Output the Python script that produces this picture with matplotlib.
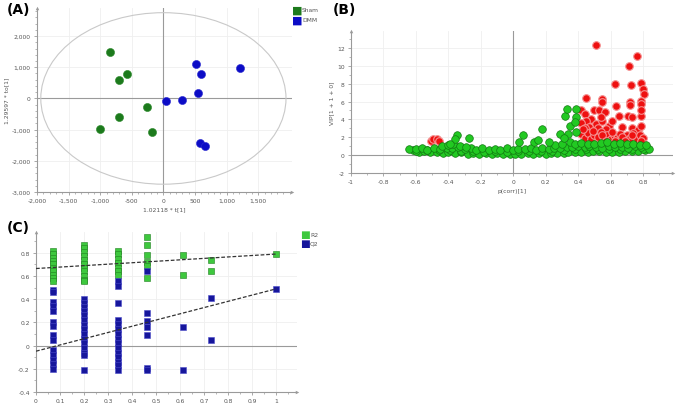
#Script to redraw the three-panel OPLS-DA figure (score plot, VIP plot, permutation test)
import matplotlib
matplotlib.use("Agg")
import matplotlib.pyplot as plt
from matplotlib.patches import Ellipse
from matplotlib.ticker import MultipleLocator, AutoMinorLocator, FuncFormatter

# ---- Panel A: score plot ----
sham_t = [-850, -710, -570, -260, -710, -1000, -180]
sham_to = [1500, 580, 770, -260, -580, -990, -1090]
dmm_t = [40, 290, 520, 600, 550, 1210, 580, 660]
dmm_to = [-70, -50, 1110, 780, 160, 970, -1440, -1530]
ellipse_t = 1940     # Hotelling T2 half-width
ellipse_to = 2750    # Hotelling T2 half-height

# ---- Panel B: VIP vs p(corr) ----
green_pts = [
	# lower row of the band
	(-0.62, 0.55), (-0.58, 0.35), (-0.55, 0.45), (-0.51, 0.30), (-0.47, 0.40), (-0.43, 0.28),
	(-0.40, 0.35), (-0.36, 0.22), (-0.32, 0.30), (-0.28, 0.18), (-0.25, 0.25), (-0.21, 0.15),
	(-0.17, 0.22), (-0.13, 0.12), (-0.10, 0.20), (-0.06, 0.15), (-0.02, 0.10), (0.01, 0.18),
	(0.05, 0.12), (0.09, 0.20), (0.12, 0.15), (0.16, 0.22), (0.20, 0.18), (0.23, 0.25),
	(0.27, 0.20), (0.31, 0.28), (0.34, 0.30), (0.38, 0.35), (0.42, 0.40), (0.46, 0.38),
	(0.49, 0.45), (0.53, 0.42), (0.57, 0.35), (0.61, 0.40), (0.65, 0.38), (0.69, 0.45),
	(0.73, 0.42), (0.77, 0.50), (0.81, 0.55),
	# middle row
	(-0.60, 0.50), (-0.53, 0.55), (-0.46, 0.60), (-0.39, 0.55), (-0.32, 0.50), (-0.25, 0.45),
	(-0.18, 0.40), (-0.11, 0.45), (-0.04, 0.40), (0.03, 0.45), (0.10, 0.50), (0.17, 0.45),
	(0.24, 0.50), (0.31, 0.60), (0.38, 0.65), (0.45, 0.70), (0.52, 0.70), (0.59, 0.65),
	(0.66, 0.70), (0.73, 0.65), (0.80, 0.70),
	# upper row
	(-0.64, 0.70), (-0.60, 0.65), (-0.56, 0.75), (-0.53, 0.60), (-0.49, 0.80), (-0.45, 0.70),
	(-0.41, 0.85), (-0.38, 0.75), (-0.34, 0.90), (-0.30, 0.65), (-0.26, 0.80), (-0.23, 0.60),
	(-0.19, 0.75), (-0.15, 0.55), (-0.11, 0.70), (-0.08, 0.60), (-0.04, 0.75), (0.00, 0.55),
	(0.03, 0.70), (0.07, 0.65), (0.11, 0.80), (0.14, 0.60), (0.18, 0.75), (0.22, 0.70),
	(0.25, 0.85), (0.29, 0.80), (0.33, 0.90), (0.36, 0.95), (0.40, 1.00), (0.44, 0.90),
	(0.47, 1.05), (0.51, 0.95), (0.55, 0.85), (0.59, 1.00), (0.63, 0.90), (0.67, 0.95),
	(0.71, 0.85), (0.75, 1.00), (0.79, 0.90), (0.84, 0.70),
	# top of the band
	(-0.44, 1.00), (-0.40, 1.10), (-0.37, 1.20), (-0.33, 1.05), (-0.29, 0.95), (0.26, 1.10),
	(0.30, 1.30), (0.35, 1.50), (0.38, 1.20), (0.42, 1.40), (0.46, 1.30), (0.50, 1.20),
	(0.54, 1.35), (0.58, 1.50), (0.62, 1.25), (0.66, 1.40), (0.70, 1.20), (0.74, 1.30),
	(0.78, 1.15), (0.82, 1.10),
	# scattered higher ones
	(-0.345, 2.25), (-0.36, 1.80), (-0.27, 1.90), (-0.39, 1.30), (0.06, 2.25), (0.035, 1.45),
	(0.18, 2.95), (0.13, 1.45), (0.15, 1.65), (0.22, 1.45), (0.29, 2.40), (0.32, 4.40),
	(0.33, 5.15), (0.39, 5.15), (0.39, 4.30), (0.35, 3.30), (0.34, 2.40), (0.39, 2.55),
	(0.31, 1.90), (0.38, 3.70),
]
red_pts = [
	(-0.505, 1.60), (-0.495, 1.80), (-0.47, 1.85), (-0.46, 1.60),
	(0.51, 12.3), (0.76, 11.05), (0.715, 10.0), (0.63, 7.95), (0.725, 7.8), (0.79, 8.1),
	(0.80, 7.4), (0.805, 6.9), (0.45, 6.35), (0.55, 6.3), (0.55, 5.95), (0.635, 5.55),
	(0.72, 6.0), (0.72, 5.65), (0.785, 6.05), (0.785, 5.75), (0.65, 4.4), (0.71, 4.35),
	(0.73, 4.3), (0.785, 4.35), (0.79, 5.1),
	(0.42, 5.1), (0.445, 4.6), (0.50, 5.0), (0.53, 5.0), (0.565, 4.8), (0.48, 4.1),
	(0.51, 3.5), (0.45, 3.8), (0.42, 3.6), (0.59, 3.3), (0.52, 3.0), (0.55, 3.8),
	(0.47, 3.2), (0.54, 4.3), (0.44, 3.0), (0.61, 3.8), (0.57, 2.9), (0.67, 3.2),
	(0.73, 3.0), (0.77, 2.8), (0.79, 3.3),
	(0.42, 2.4), (0.44, 1.9), (0.46, 2.5), (0.48, 1.8), (0.50, 2.3), (0.52, 2.0),
	(0.54, 2.6), (0.56, 1.9), (0.58, 2.3), (0.60, 1.8), (0.62, 2.2), (0.64, 1.9),
	(0.66, 2.4), (0.68, 1.8), (0.70, 2.2), (0.72, 1.9), (0.74, 2.5), (0.76, 1.8),
	(0.78, 2.2), (0.80, 1.9), (0.43, 2.9), (0.49, 2.7), (0.55, 2.2), (0.61, 2.6),
	(0.67, 2.0), (0.73, 2.3), (0.79, 1.6), (0.57, 1.6), (0.63, 1.6), (0.69, 1.6),
]

# ---- Panel C: permutation test ----
perm_r2 = {
	0.07: [0.82, 0.79, 0.76, 0.73, 0.70, 0.67, 0.64, 0.61, 0.58, 0.56],
	0.20: [0.87, 0.84, 0.81, 0.77, 0.74, 0.70, 0.67, 0.64, 0.60, 0.57, 0.56],
	0.34: [0.82, 0.79, 0.75, 0.71, 0.67, 0.64, 0.61],
	0.46: [0.94, 0.87, 0.78, 0.72, 0.69, 0.58],
	0.61: [0.78, 0.61],
	0.73: [0.74, 0.64],
	1.00: [0.79],
}
perm_q2 = {
	0.07: [0.48, 0.46, 0.38, 0.34, 0.30, 0.20, 0.17, 0.09, 0.05, -0.04, -0.08, -0.12, -0.16, -0.20],
	0.20: [0.40, 0.37, 0.33, 0.30, 0.26, 0.22, 0.18, 0.14, 0.10, 0.06, 0.02, -0.02, -0.06, -0.08, -0.21],
	0.34: [0.56, 0.51, 0.37, 0.22, 0.19, 0.14, 0.10, 0.06, 0.02, -0.02, -0.06, -0.10, -0.14, -0.17, -0.21],
	0.46: [0.64, 0.28, 0.21, 0.16, 0.09, -0.19, -0.21],
	0.61: [0.16, -0.21],
	0.73: [0.41, 0.05],
	1.00: [0.49],
}
r2_intercept = 0.665
q2_intercept = -0.048

W, H = 677, 406
AXIS_GREY = "#9a9a9a"
TEXT_GREY = "#555555"
GRID = "#efefef"


def px_axes(fig, left, top, right, bottom):
	'''Add axes from pixel edges (top-left origin).'''
	return fig.add_axes([left / W, (H - bottom) / H, (right - left) / W, (bottom - top) / H])


def style_axes(ax):
	'''Grey arrow axes like the SIMCA output.'''
	for s in ["top", "right"]:
		ax.spines[s].set_visible(False)
	for s in ["left", "bottom"]:
		ax.spines[s].set_color(AXIS_GREY)
		ax.spines[s].set_linewidth(0.8)
	ax.tick_params(which="both", direction="out", colors=AXIS_GREY, labelcolor=TEXT_GREY,
		labelsize=4.3, pad=2)
	ax.tick_params(which="major", length=2.5, width=0.6)
	ax.tick_params(which="minor", length=1.3, width=0.5)
	ax.grid(True, which="major", color=GRID, linewidth=0.6, zorder=0)
	ax.set_axisbelow(True)
	ax.plot(0, 1, "^", transform=ax.transAxes, clip_on=False, color=AXIS_GREY, ms=2.5, mew=0)
	ax.plot(1, 0, ">", transform=ax.transAxes, clip_on=False, color=AXIS_GREY, ms=2.5, mew=0)


fig = plt.figure(figsize=(W / 100, H / 100), dpi=100)
fig.patch.set_facecolor("white")

# Panel A
axA = px_axes(fig, 37, 9, 292, 193)
style_axes(axA)
axA.set_xlim(-2000, 2035)
axA.set_ylim(-3000, 2900)
axA.xaxis.set_major_locator(MultipleLocator(500))
axA.yaxis.set_major_locator(MultipleLocator(1000))
axA.xaxis.set_minor_locator(AutoMinorLocator(5))
axA.yaxis.set_minor_locator(AutoMinorLocator(5))
axA.set_xticks([-2000, -1500, -1000, -500, 0, 500, 1000, 1500])
axA.xaxis.set_major_formatter(FuncFormatter(lambda v, p: f"{v:,.0f}"))
axA.yaxis.set_major_formatter(FuncFormatter(lambda v, p: f"{v:,.0f}"))
axA.axhline(0, color=AXIS_GREY, lw=0.8, zorder=1)
axA.axvline(0, color=AXIS_GREY, lw=0.8, zorder=1)
axA.add_patch(Ellipse((0, 0), 2 * ellipse_t, 2 * ellipse_to, fill=False, ec="#c9c9c9", lw=0.8, zorder=1))
axA.scatter(sham_t, sham_to, s=34, color="#1c7a1c", edgecolors="#2a8a2a", linewidths=0.4, zorder=3, label="Sham")
axA.scatter(dmm_t, dmm_to, s=34, color="#0c0cc6", edgecolors="#2a2ad0", linewidths=0.4, zorder=3, label="DMM")
axA.set_xlabel("1.02118 * t[1]", fontsize=4.3, color=TEXT_GREY, labelpad=2)
axA.set_ylabel("1.29597 * to[1]", fontsize=4.3, color=TEXT_GREY, labelpad=2)
axA.legend(loc="upper left", bbox_to_anchor=(0.995, 1.0), frameon=False, fontsize=4.3,
	markerscale=0.0, handlelength=0, handletextpad=0, borderaxespad=0)
legA = axA.get_legend()
legA.remove()
for i, (lab, col) in enumerate([("Sham", "#1c7a1c"), ("DMM", "#0c0cc6")]):
	fig.text(297 / W, 1 - (11 + 10 * i) / H, "\u25A0", color=col, fontsize=8, ha="center", va="center")
	fig.text(302 / W, 1 - (11 + 10 * i) / H, lab, color=TEXT_GREY, fontsize=4.3, ha="left", va="center")

# Panel B
axB = px_axes(fig, 351, 32, 673, 174)
style_axes(axB)
axB.set_xlim(-1, 0.985)
axB.set_ylim(-2, 13.9)
axB.xaxis.set_major_locator(MultipleLocator(0.2))
axB.yaxis.set_major_locator(MultipleLocator(2))
axB.xaxis.set_minor_locator(AutoMinorLocator(2))
axB.yaxis.set_minor_locator(AutoMinorLocator(2))
axB.xaxis.set_major_formatter(FuncFormatter(lambda v, p: f"{round(v, 1):g}"))
axB.yaxis.set_major_formatter(FuncFormatter(lambda v, p: f"{v:g}"))
axB.axhline(0, color=AXIS_GREY, lw=0.8, zorder=1)
axB.axvline(0, color=AXIS_GREY, lw=0.8, zorder=1)
rx = [p[0] for p in red_pts]
ry = [p[1] for p in red_pts]
gx = [p[0] for p in green_pts]
gy = [p[1] for p in green_pts]
axB.scatter(rx, ry, s=30, color="#ee1010", edgecolors="#f59090", linewidths=0.8, zorder=3)
axB.scatter(gx, gy, s=30, color="#22c922", edgecolors="#127812", linewidths=0.5, zorder=4)
axB.set_xlabel("p(corr)[1]", fontsize=4.3, color=TEXT_GREY, labelpad=3)
axB.set_ylabel("VIP[1 + 1 + 0]", fontsize=4.3, color=TEXT_GREY, labelpad=2)

# Panel C
axC = px_axes(fig, 36, 233, 297, 393)
style_axes(axC)
axC.set_xlim(0, 1.086)
axC.set_ylim(-0.4, 0.98)
axC.xaxis.set_major_locator(MultipleLocator(0.1))
axC.yaxis.set_major_locator(MultipleLocator(0.2))
axC.xaxis.set_minor_locator(AutoMinorLocator(2))
axC.yaxis.set_minor_locator(AutoMinorLocator(2))
axC.set_xticks([0, 0.1, 0.2, 0.3, 0.4, 0.5, 0.6, 0.7, 0.8, 0.9, 1.0])
axC.xaxis.set_major_formatter(FuncFormatter(lambda v, p: f"{round(v, 1):g}"))
axC.yaxis.set_major_formatter(FuncFormatter(lambda v, p: f"{round(v, 1):g}"))
axC.axhline(0, color=AXIS_GREY, lw=0.8, zorder=1)
for xpos, vals in perm_r2.items():
	axC.scatter([xpos] * len(vals), vals, marker="s", s=24, color="#3ec83e", edgecolors="#1f7f1f",
		linewidths=0.4, zorder=3)
for xpos, vals in perm_q2.items():
	axC.scatter([xpos] * len(vals), vals, marker="s", s=24, color="#16169c", edgecolors="#4a4ac8",
		linewidths=0.4, zorder=3)
axC.plot([0, 1], [r2_intercept, perm_r2[1.00][0]], ls=(0, (3, 1.5)), color="#333333", lw=0.9, zorder=4)
axC.plot([0, 1], [q2_intercept, perm_q2[1.00][0]], ls=(0, (3, 1.5)), color="#333333", lw=0.9, zorder=4)
for i, (lab, col) in enumerate([("R2", "#3ec83e"), ("Q2", "#16169c")]):
	fig.text(305 / W, 1 - (235.5 + 9 * i) / H, "\u25A0", color=col, fontsize=7.5, ha="center", va="center")
	fig.text(310 / W, 1 - (235.5 + 9 * i) / H, lab, color=TEXT_GREY, fontsize=4.3, ha="left", va="center")

# panel letters
for lab, x, y in [("(A)", 7, 10), ("(B)", 333, 10), ("(C)", 7, 228)]:
	fig.text(x / W, 1 - y / H, lab, fontsize=10, fontweight="bold", ha="left", va="center")

fig.savefig("out.png", dpi=100, facecolor="white")
